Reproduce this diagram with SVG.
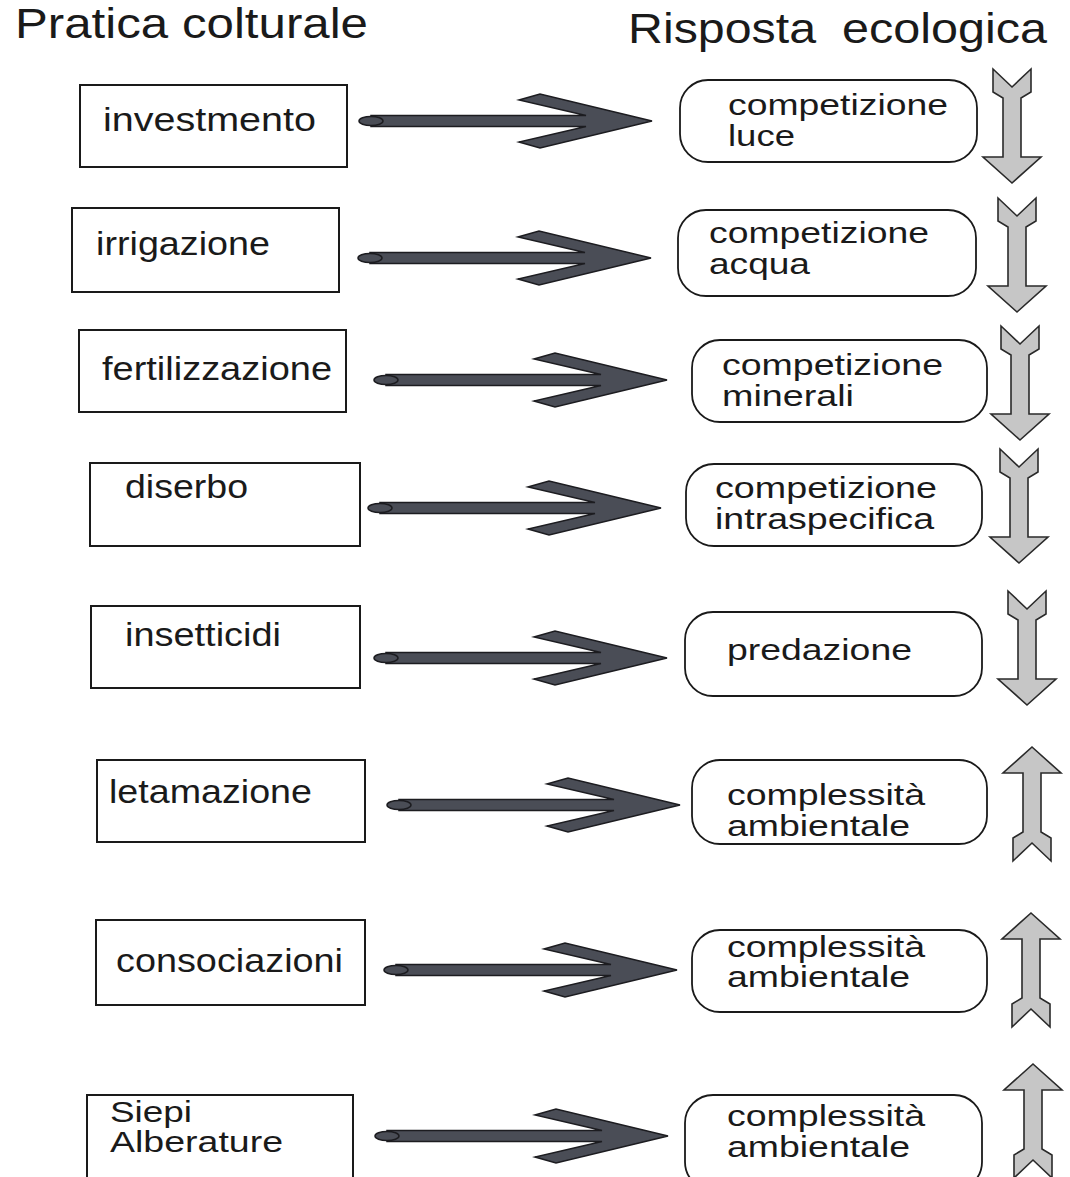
<svg xmlns="http://www.w3.org/2000/svg" width="1070" height="1177" viewBox="0 0 1070 1177">
<style>
.hdr{font-family:"Liberation Sans",Arial,sans-serif;font-size:42px;fill:#1a1a1a}
.lt{font-family:"Liberation Sans",Arial,sans-serif;font-size:33px;fill:#1a1a1a}
.lt2{font-family:"Liberation Sans",Arial,sans-serif;font-size:29px;fill:#1a1a1a}
.rt{font-family:"Liberation Sans",Arial,sans-serif;font-size:30px;fill:#1a1a1a}
.lbox{fill:#fff;stroke:#1a1a1a;stroke-width:2}
.rbox{fill:#fff;stroke:#1a1a1a;stroke-width:1.8}
.harr{fill:#4a4d56;stroke:#1c1c20;stroke-width:1.5;stroke-linejoin:miter}
.varr{fill:#c6c6c6;stroke:#2a2a2a;stroke-width:1.6;stroke-linejoin:miter}
</style>
<defs>
<g id="harrow" class="harr">
<path d="M12,-5.5 L227,-5.5 L160,-21 L181,-27 L293,0 L181,27 L160,21 L227,5.5 L12,5.5 Z"/>
<ellipse cx="12" cy="0" rx="12" ry="4.5"/>
</g>
<path id="down" class="varr" d="M-19,0 L0,18 L19,0 L19,23 L9,29 L9,88 L29,88 L0,114 L-29,88 L-9,88 L-9,29 L-19,23 Z"/>
<path id="up" class="varr" d="M0,0 L29,26 L9,26 L9,85 L19,91 L19,114 L0,96 L-19,114 L-19,91 L-9,85 L-9,26 L-29,26 Z"/>
</defs>
<rect width="1070" height="1177" fill="#fff"/>
<g id="headers">
<text class="hdr" x="15" y="38" textLength="353" lengthAdjust="spacingAndGlyphs">Pratica colturale</text>
<text class="hdr" y="43"><tspan x="628" textLength="188" lengthAdjust="spacingAndGlyphs">Risposta</tspan><tspan x="842" textLength="205" lengthAdjust="spacingAndGlyphs">ecologica</tspan></text>
</g>
<g id="pratiche">
<g id="p1"><rect class="lbox" x="80" y="85" width="267" height="82"/><text class="lt" x="103" y="131" textLength="213" lengthAdjust="spacingAndGlyphs">investmento</text></g>
<g id="p2"><rect class="lbox" x="72" y="208" width="267" height="84"/><text class="lt" x="96" y="255" textLength="174" lengthAdjust="spacingAndGlyphs">irrigazione</text></g>
<g id="p3"><rect class="lbox" x="79" y="330" width="267" height="82"/><text class="lt" x="102" y="380" textLength="230" lengthAdjust="spacingAndGlyphs">fertilizzazione</text></g>
<g id="p4"><rect class="lbox" x="90" y="463" width="270" height="83"/><text class="lt" x="125" y="498" textLength="123" lengthAdjust="spacingAndGlyphs">diserbo</text></g>
<g id="p5"><rect class="lbox" x="91" y="606" width="269" height="82"/><text class="lt" x="125" y="646" textLength="156" lengthAdjust="spacingAndGlyphs">insetticidi</text></g>
<g id="p6"><rect class="lbox" x="97" y="760" width="268" height="82"/><text class="lt" x="109" y="803" textLength="203" lengthAdjust="spacingAndGlyphs">letamazione</text></g>
<g id="p7"><rect class="lbox" x="96" y="920" width="269" height="85"/><text class="lt" x="116" y="972" textLength="227" lengthAdjust="spacingAndGlyphs">consociazioni</text></g>
<g id="p8"><rect class="lbox" x="87" y="1095" width="266" height="95"/><text class="lt2" x="110" y="1122" textLength="82" lengthAdjust="spacingAndGlyphs">Siepi</text><text class="lt2" x="110" y="1152" textLength="173" lengthAdjust="spacingAndGlyphs">Alberature</text></g>
</g>
<g id="risposte">
<g id="r1"><rect class="rbox" x="680" y="80" width="297" height="82" rx="28"/><text class="rt" x="728" y="115" textLength="220" lengthAdjust="spacingAndGlyphs">competizione</text><text class="rt" x="728" y="146" textLength="67" lengthAdjust="spacingAndGlyphs">luce</text></g>
<g id="r2"><rect class="rbox" x="678" y="210" width="298" height="86" rx="28"/><text class="rt" x="709" y="243" textLength="220" lengthAdjust="spacingAndGlyphs">competizione</text><text class="rt" x="709" y="274" textLength="101" lengthAdjust="spacingAndGlyphs">acqua</text></g>
<g id="r3"><rect class="rbox" x="692" y="340" width="295" height="82" rx="28"/><text class="rt" x="722" y="375" textLength="221" lengthAdjust="spacingAndGlyphs">competizione</text><text class="rt" x="722" y="406" textLength="132" lengthAdjust="spacingAndGlyphs">minerali</text></g>
<g id="r4"><rect class="rbox" x="686" y="464" width="296" height="82" rx="28"/><text class="rt" x="715" y="498" textLength="222" lengthAdjust="spacingAndGlyphs">competizione</text><text class="rt" x="715" y="529" textLength="219" lengthAdjust="spacingAndGlyphs">intraspecifica</text></g>
<g id="r5"><rect class="rbox" x="685" y="612" width="297" height="84" rx="28"/><text class="rt" x="727" y="660" textLength="185" lengthAdjust="spacingAndGlyphs">predazione</text></g>
<g id="r6"><rect class="rbox" x="692" y="760" width="295" height="84" rx="28"/><text class="rt" x="727" y="805" textLength="198" lengthAdjust="spacingAndGlyphs">complessità</text><text class="rt" x="727" y="836" textLength="183" lengthAdjust="spacingAndGlyphs">ambientale</text></g>
<g id="r7"><rect class="rbox" x="692" y="930" width="295" height="82" rx="28"/><text class="rt" x="727" y="957" textLength="198" lengthAdjust="spacingAndGlyphs">complessità</text><text class="rt" x="727" y="987" textLength="183" lengthAdjust="spacingAndGlyphs">ambientale</text></g>
<g id="r8"><rect class="rbox" x="685" y="1095" width="297" height="95" rx="28"/><text class="rt" x="727" y="1126" textLength="198" lengthAdjust="spacingAndGlyphs">complessità</text><text class="rt" x="727" y="1157" textLength="183" lengthAdjust="spacingAndGlyphs">ambientale</text></g>
</g>
<g id="connectors">
<use href="#harrow" transform="translate(359,121)"/>
<use href="#harrow" transform="translate(358,258)"/>
<use href="#harrow" transform="translate(374,380)"/>
<use href="#harrow" transform="translate(368,508)"/>
<use href="#harrow" transform="translate(374,658)"/>
<use href="#harrow" transform="translate(387,805)"/>
<use href="#harrow" transform="translate(384,970)"/>
<use href="#harrow" transform="translate(375,1136)"/>
</g>
<g id="trend-arrows">
<use href="#down" transform="translate(1012,69)"/>
<use href="#down" transform="translate(1017,198)"/>
<use href="#down" transform="translate(1020,326)"/>
<use href="#down" transform="translate(1019,449)"/>
<use href="#down" transform="translate(1027,591)"/>
<use href="#up" transform="translate(1032,747)"/>
<use href="#up" transform="translate(1031,913)"/>
<use href="#up" transform="translate(1033,1064)"/>
</g>
</svg>
